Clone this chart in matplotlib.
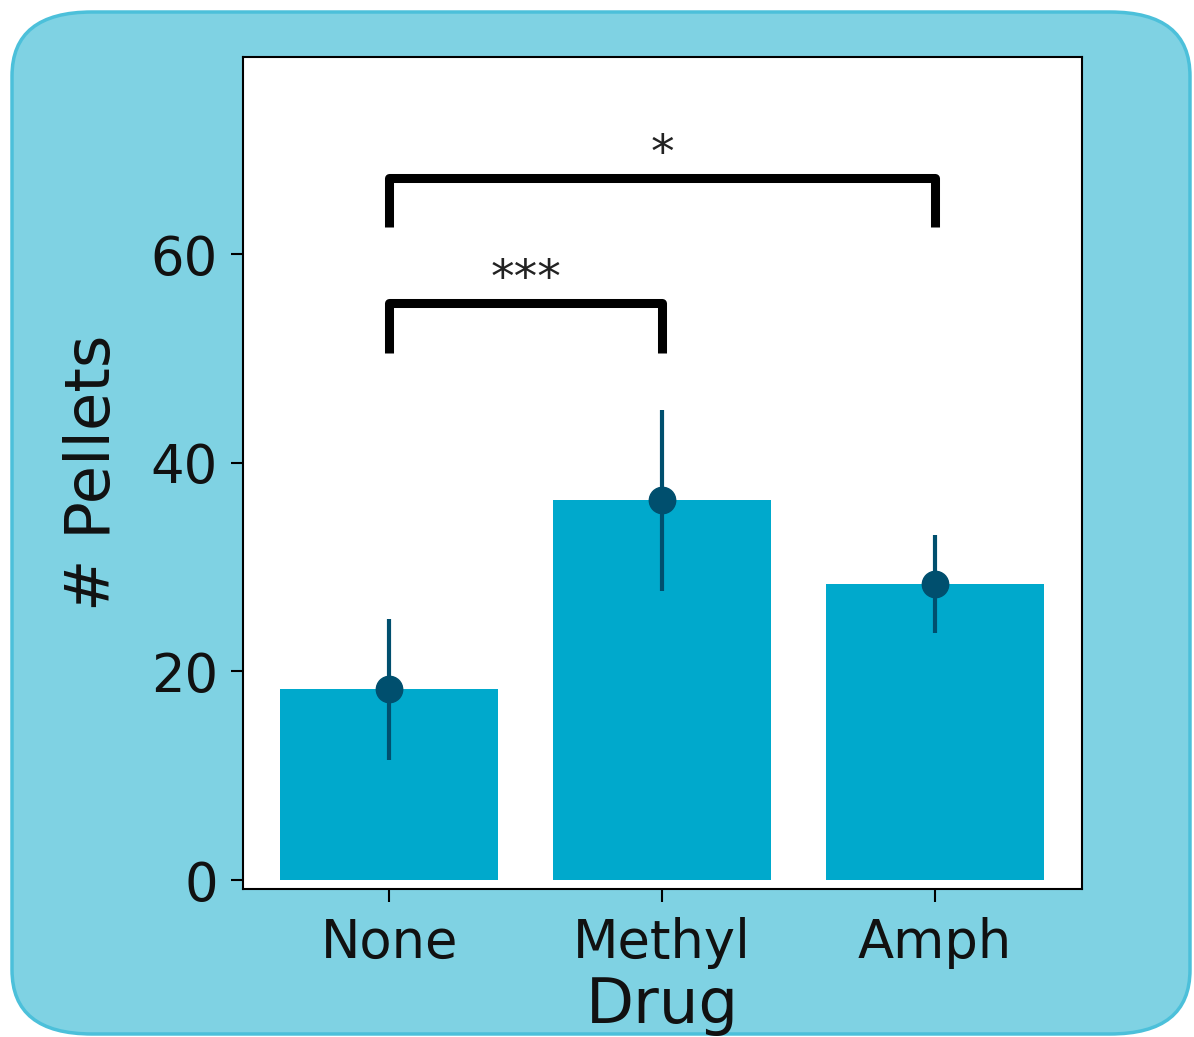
import matplotlib
matplotlib.use("Agg")
import matplotlib.pyplot as plt
from matplotlib.patches import FancyBboxPatch
from matplotlib.transforms import IdentityTransform

categories = ["None", "Methyl", "Amph"]
means = [18.3, 36.4, 28.4]
err_low = [11.5, 27.7, 23.7]
err_high = [25.0, 45.1, 33.1]
y_ticks = [0, 20, 40, 60]
brackets = [(0, 1, 50.5, 55.3, "***"), (0, 2, 62.6, 67.3, "*")]

W, H, DPI = 1194, 1037, 100
fig = plt.figure(figsize=(W / DPI, H / DPI), dpi=DPI, facecolor="white")

bg = FancyBboxPatch((12, 3), 1178, 1022, boxstyle="round,pad=0,rounding_size=80",
                    mutation_aspect=0.8,
                    transform=IdentityTransform(), facecolor="#7fd2e3",
                    edgecolor="#4cc0da", linewidth=2.5, zorder=-10)
fig.patches.append(bg)

ax = fig.add_axes([243 / W, 1 - 889 / H, (1082 - 243) / W, (889 - 57) / H])
ax.set_zorder(1)
ax.set_facecolor("white")
x = list(range(len(categories)))
ax.bar(x, means, width=0.8, color="#00a9cc", zorder=2)
yerr = [[m - l for m, l in zip(means, err_low)], [h - m for m, h in zip(means, err_high)]]
ax.errorbar(x, means, yerr=yerr, fmt="o", color="#004f6e", ecolor="#004f6e",
            elinewidth=3, markersize=19, capsize=0, zorder=3)

for x0, x1, ylo, yhi, lab in brackets:
    ax.plot([x0, x0, x1, x1], [ylo, yhi, yhi, ylo], color="black", lw=6.5,
            solid_joinstyle="round", solid_capstyle="butt", zorder=4)
    ax.text((x0 + x1) / 2, yhi + 0.1, lab, ha="center", va="bottom", fontsize=34,
            color="#222222")

ax.set_xlim(-0.535, 2.538)
ax.set_ylim(-0.86, 78.9)
ax.set_xticks(x)
ax.set_xticklabels(categories)
ax.set_yticks(y_ticks)
ax.tick_params(axis="both", labelsize=38, length=9, width=1.5, labelcolor="#111111")
ax.tick_params(axis="x", pad=11)
ax.tick_params(axis="y", pad=9)
for s in ax.spines.values():
    s.set_linewidth(1.5)
ax.set_ylabel("# Pellets", fontsize=45, labelpad=20, color="#111111")
ax.set_xlabel("Drug", fontsize=45, labelpad=5, color="#111111")

fig.savefig("out.png", dpi=DPI, facecolor="white")
